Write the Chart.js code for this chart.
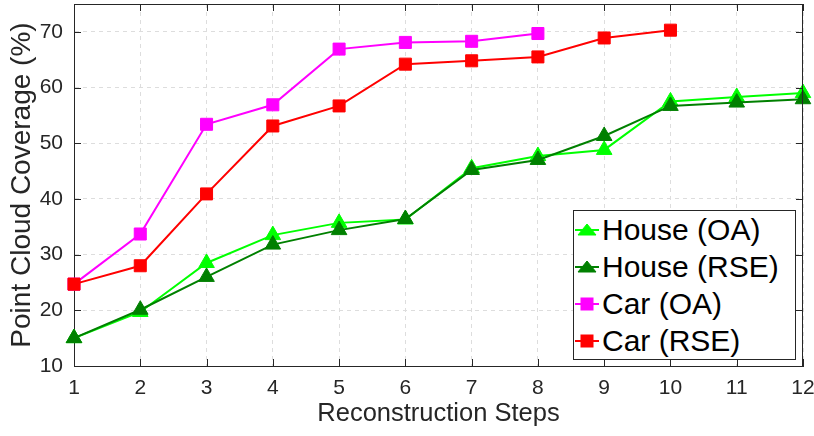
<!DOCTYPE html>
<html lang="en">
<head>
  <meta charset="UTF-8" />
  <title>Point Cloud Coverage</title>
  <script src="https://cdn.jsdelivr.net/npm/chart.js"></script>
  <style>
    body {
      margin: 0;
      background: #ffffff;
      font-family: "Liberation Sans", Arial, sans-serif;
    }

    .wrap {
      position: relative;
      width: 814px;
      height: 436px;
    }

    .legend {
      position: absolute;
      left: 573px;
      top: 210px;
      width: 221px;
      height: 148px;
      border: 1px solid #262626;
      background: #ffffff;
    }

    .legend .row {
      position: absolute;
      left: 1px;
      height: 36px;
      display: flex;
      align-items: center;
      font-size: 30px;
      color: #000000;
      white-space: nowrap;
    }

    .legend svg {
      margin-right: 3px;
    }
  </style>
</head>
<body>
  <div class="wrap">
    <canvas id="chart" width="814" height="436"></canvas>
    <div class="legend" id="legend"></div>
  </div>

  <script>
    const steps = ["1", "2", "3", "4", "5", "6", "7", "8", "9", "10", "11", "12"];
    const yTicks = [10, 20, 30, 40, 50, 60, 70];

    const houseOA = [15.0, 19.7, 28.5, 33.5, 35.7, 36.3, 45.5, 47.7, 48.8, 57.5, 58.3, 59.0];
    const houseRSE = [15.0, 20.1, 26.0, 31.8, 34.4, 36.4, 45.2, 47.0, 51.3, 56.7, 57.3, 57.9];
    const carOA = [24.7, 33.7, 53.4, 56.9, 66.9, 68.1, 68.3, 69.7];
    const carRSE = [24.7, 28.0, 40.9, 53.1, 56.7, 64.2, 64.8, 65.5, 68.9, 70.3];

    const seriesNames = ["House (OA)", "House (RSE)", "Car (OA)", "Car (RSE)"];
    const seriesColors = ["#00ff00", "#008000", "#ff00ff", "#ff0000"];
    const seriesMarkers = ["triangle", "triangle", "rect", "rect"];
    const seriesData = [houseOA, houseRSE, carOA, carRSE];

    const axisColor = "#262626";

    // pin the plot top so the y range matches the figure
    const fixTopPlugin = {
      id: "fixTop",
      afterLayout(chart) {
        const top = 4;
        const a = chart.chartArea;
        a.top = top;
        a.height = a.bottom - top;
        const y = chart.scales.y;
        y.top = top;
        y.height = y.bottom - top;
        y.configure();
      }
    };

    // MATLAB-style box: top/right border and inward tick marks
    const boxPlugin = {
      id: "box",
      afterDraw(chart) {
        const { ctx, chartArea: a, scales } = chart;
        ctx.save();
        ctx.strokeStyle = axisColor;
        ctx.lineWidth = 1;
        ctx.beginPath();
        ctx.moveTo(a.left, a.top + 0.5);
        ctx.lineTo(a.right, a.top + 0.5);
        ctx.moveTo(a.right - 0.5, a.top);
        ctx.lineTo(a.right - 0.5, a.bottom);
        const len = 7;
        scales.x.ticks.forEach((t, i) => {
          const x = Math.round(scales.x.getPixelForTick(i)) + 0.5;
          ctx.moveTo(x, a.bottom);
          ctx.lineTo(x, a.bottom - len);
          ctx.moveTo(x, a.top);
          ctx.lineTo(x, a.top + len);
        });
        scales.y.ticks.forEach((t) => {
          const y = Math.round(scales.y.getPixelForValue(t.value)) + 0.5;
          ctx.moveTo(a.left, y);
          ctx.lineTo(a.left + len, y);
          ctx.moveTo(a.right, y);
          ctx.lineTo(a.right - len, y);
        });
        ctx.stroke();
        ctx.restore();
      }
    };

    const datasets = seriesNames.map((name, i) => ({
      label: name,
      data: seriesData[i],
      borderColor: seriesColors[i],
      backgroundColor: seriesColors[i],
      borderWidth: 2,
      pointStyle: seriesMarkers[i],
      pointRadius: seriesMarkers[i] === "triangle" ? 9 : 8.5,
      pointBorderWidth: 1,
      tension: 0,
      order: seriesNames.length - i
    }));

    new Chart(document.getElementById("chart").getContext("2d"), {
      type: "line",
      data: { labels: steps, datasets: datasets },
      options: {
        responsive: false,
        animation: false,
        layout: { padding: { top: 4, right: 11, left: 0, bottom: 0 } },
        plugins: {
          legend: { display: false },
          tooltip: { enabled: false }
        },
        scales: {
          x: {
            offset: false,
            grid: { color: "#dddddd", lineWidth: 1, drawTicks: false },
            border: { color: axisColor, width: 1, dash: [4, 4] },
            ticks: {
              color: axisColor,
              padding: 10,
              maxRotation: 0,
              autoSkip: false,
              font: { family: "Liberation Sans", size: 21 }
            },
            title: {
              display: true,
              text: "Reconstruction Steps",
              color: axisColor,
              padding: { top: 0, bottom: 7 },
              font: { family: "Liberation Sans", size: 25.5 }
            },
            afterFit(scale) {
              scale.height = 70;
              scale.paddingLeft = 0;
              scale.paddingRight = 0;
            }
          },
          y: {
            min: 10,
            max: 75,
            grid: { color: "#dddddd", lineWidth: 1, drawTicks: false },
            border: { color: axisColor, width: 1, dash: [4, 4] },
            afterBuildTicks(scale) {
              scale.ticks = yTicks.map(v => ({ value: v }));
            },
            ticks: {
              color: axisColor,
              padding: 11,
              font: { family: "Liberation Sans", size: 21 }
            },
            title: {
              display: true,
              text: "Point Cloud Coverage (%)",
              color: axisColor,
              padding: { top: 5, bottom: 0 },
              font: { family: "Liberation Sans", size: 28 }
            },
            afterFit(scale) {
              scale.width = 74;
            }
          }
        }
      },
      plugins: [fixTopPlugin, boxPlugin]
    });

    // legend box inside the plot
    const legendEl = document.getElementById("legend");
    seriesNames.forEach((name, i) => {
      const row = document.createElement("div");
      row.className = "row";
      row.style.top = (1 + i * 37) + "px";
      const c = seriesColors[i];
      const marker = seriesMarkers[i] === "triangle"
        ? `<polygon points="12,6 21,17 3,17" fill="${c}" stroke="${c}"/>`
        : `<rect x="6" y="6" width="12" height="12" fill="${c}" stroke="${c}"/>`;
      row.innerHTML =
        `<svg width="24" height="24"><line x1="0" y1="12" x2="24" y2="12" stroke="${c}" stroke-width="2"/>${marker}</svg>` +
        `<span>${name}</span>`;
      legendEl.appendChild(row);
    });
  </script>
</body>
</html>
